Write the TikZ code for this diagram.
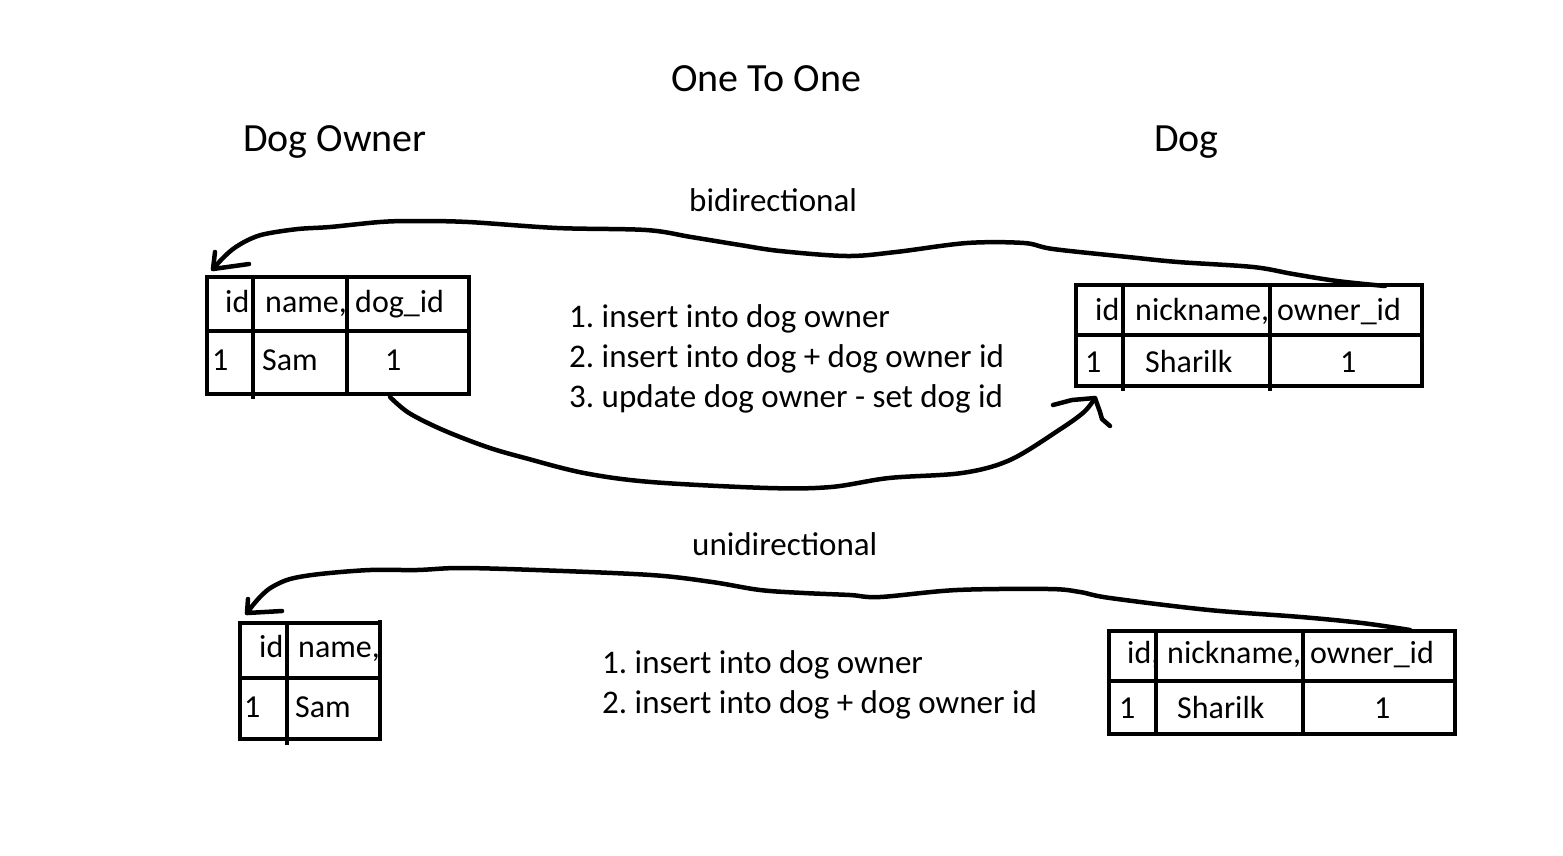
\documentclass[tikz,border=0pt]{standalone}
\usepackage{fontspec}
\setmainfont{Carlito}
\frenchspacing
\begin{document}
\begin{tikzpicture}[x=1pt,y=-1pt,
  tbl/.style={draw, line width=4.5pt, rectangle, inner sep=0pt},
  grid/.style={line width=4.5pt},
  wire/.style={line width=4.5pt, line cap=round, line join=round},
  txt/.style={anchor=base west, inner sep=0pt, font=\fontsize{32}{38}\selectfont},
  lst/.style={anchor=base west, inner sep=0pt, font=\fontsize{33}{40}\selectfont},
  big/.style={anchor=base west, inner sep=0pt, font=\fontsize{40}{48}\selectfont}]
\useasboundingbox[fill=white] (0,0) rectangle (1563,855);

% titles
\node[big] (title) at (671,91) {One To One};
\node[big] (owner) at (243,151) {Dog Owner};
\node[big] (dog) at (1154,151) {Dog};
\node[lst] (bi) at (689,211) {bidirectional};
\node[lst] (uni) at (692,555) {unidirectional};

% step lists
\node[lst] (s11) at (569,327) {1. insert into dog owner};
\node[lst] (s12) at (569,367) {2. insert into dog + dog owner id};
\node[lst] (s13) at (569,407) {3. update dog owner - set dog id};
\node[lst] (s21) at (602,673) {1. insert into dog owner};
\node[lst] (s22) at (602,713) {2. insert into dog + dog owner id};

% table texts (drawn before the grid lines, so the commas hide under them)
\node[txt] (t1a) at (225,312) {id,};
\node[txt] (t1b) at (265,312) {name,};
\node[txt] (t1c) at (355,312) {dog\_id};
\node[txt] (t1d) at (212,370) {1};
\node[txt] (t1e) at (262,370) {Sam};
\node[txt] (t1f) at (385,370) {1};

\node[txt] (t2a) at (1095,320) {id,};
\node[txt] (t2b) at (1135,320) {nickname,};
\node[txt] (t2c) at (1277,320) {owner\_id};
\node[txt] (t2d) at (1085,372) {1};
\node[txt] (t2e) at (1145,372) {Sharilk};
\node[txt] (t2f) at (1340,372) {1};

\node[txt] (t3a) at (259,657) {id,};
\node[txt] (t3b) at (298,657) {name,};
\node[txt] (t3c) at (244,717) {1};
\node[txt] (t3d) at (295,717) {Sam};

\node[txt] (t4a) at (1127,663) {id,};
\node[txt] (t4b) at (1167,663) {nickname,};
\node[txt] (t4c) at (1310,663) {owner\_id};
\node[txt] (t4d) at (1119,718) {1};
\node[txt] (t4e) at (1177,718) {Sharilk};
\node[txt] (t4f) at (1374,718) {1};

% tables
\node[tbl, minimum width=262pt, minimum height=117pt] (t1) at (338,335.5) {};
\draw[grid] (207,331) -- (469,331);
\draw[grid] (253,277) -- (253,399);
\draw[grid] (347,277) -- (347,394);

\node[tbl, minimum width=346pt, minimum height=101pt] (t2) at (1249,335.5) {};
\draw[grid] (1076,335) -- (1422,335);
\draw[grid] (1123,285) -- (1123,391);
\draw[grid] (1270,285) -- (1270,391);

\node[tbl, minimum width=140pt, minimum height=116pt] (t3) at (310,681) {};
\draw[grid] (240,678) -- (382,678);
\draw[grid] (287,623) -- (287,745);
\draw[grid] (380,620) -- (380,626);

\node[tbl, minimum width=346pt, minimum height=103pt] (t4) at (1282,682.5) {};
\draw[grid] (1109,681) -- (1455,681);
\draw[grid] (1156,631) -- (1156,736);
\draw[grid] (1303,631) -- (1303,736);

% connector endpoints
\coordinate (tipA) at (213,269);
\coordinate (tipB) at (1095,398);
\coordinate (tipC) at (247,613);
\coordinate (srcA) at (1385,286);
\coordinate (srcB) at (390,397);
\coordinate (srcC) at (1410,630);

% bidirectional: dog -> owner (top)
\draw[wire] plot[smooth, tension=0.55] coordinates {
 (srcA) (1337,281) (1293,274) (1253,267) (1178,262) (1128,257) (1053,249)
 (1024,243) (967,243) (896,252) (847,256) (780,251) (740,245) (691,237)
 (646,230) (557,228) (468,222) (414,221) (380,222) (330,227) (298,229)
 (265,234) (248,240) (233,249) (222,259) (tipA)};
\draw[wire] (215,252) -- (tipA) -- (249,264);

% bidirectional: owner -> dog (bottom)
\draw[wire] plot[smooth, tension=0.55] coordinates {
 (srcB) (409,413) (443,430) (487,447) (525,458) (584,473) (651,482)
 (768,488) (831,487) (889,478) (962,473) (1010,460) (1059,430) (1084,412) (tipB)};
\draw[wire] (1053,405) -- (1072,400) -- (tipB) -- (1100,412) -- (1102,419) -- (1110,426);

% unidirectional
\draw[wire] plot[smooth, tension=0.55] coordinates {
 (srcC) (1362,623) (1301,617) (1209,610) (1110,598) (1080,592) (1049,589)
 (957,590) (880,597) (850,595) (804,593) (760,590) (712,582) (651,575)
 (536,570) (460,568) (417,570) (370,570) (320,574) (290,579) (272,587)
 (262,595) (253,605) (tipC)};
\draw[wire] (248,599) -- (tipC) -- (282,611);
\end{tikzpicture}
\end{document}
